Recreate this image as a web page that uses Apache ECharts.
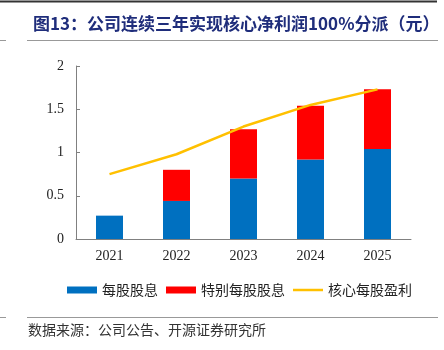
<!DOCTYPE html>
<html>
<head>
<meta charset="utf-8">
<script src="https://cdn.jsdelivr.net/npm/echarts@6/dist/echarts.min.js"></script>
<style>
  html, body { margin: 0; padding: 0; background: #fff; }
  #chart { width: 444px; height: 350px; }
</style>
</head>
<body>
<div id="chart"></div>
<script>
// 数据
const years = ['2021', '2022', '2023', '2024', '2025']
const dividend = [0.27, 0.44, 0.70, 0.92, 1.04] // 每股股息
const specialDividend = [0, 0.36, 0.57, 0.62, 0.69] // 特别每股股息
const coreEps = [0.75, 0.98, 1.30, 1.55, 1.73] // 核心每股盈利
const yTicks = [0, 0.5, 1, 1.5, 2]

const myChart = echarts.init(document.getElementById('chart'))
const cjk = '"Noto Sans CJK SC", sans-serif'
const serif = '"Liberation Serif", "Times New Roman", serif'

const option = {
  animation: false,
  title: {
    text: '图13：公司连续三年实现核心净利润100%分派（元）',
    left: 28,
    top: 10,
    textStyle: {
      color: '#1F2D7B',
      fontSize: 17,
      fontWeight: 'bold',
      fontFamily: cjk,
    },
  },
  graphic: [
    // 顶部线
    { type: 'line', shape: { x1: 0, y1: 1.5, x2: 437, y2: 1.5 }, style: { stroke: '#333', lineWidth: 2 } },
    // 标题下方线
    { type: 'line', shape: { x1: 0, y1: 40.5, x2: 6, y2: 40.5 }, style: { stroke: '#999', lineWidth: 1 } },
    { type: 'line', shape: { x1: 27, y1: 40.5, x2: 438, y2: 40.5 }, style: { stroke: '#999', lineWidth: 1 } },
    // 来源上方线
    { type: 'line', shape: { x1: 0, y1: 317.5, x2: 6, y2: 317.5 }, style: { stroke: '#999', lineWidth: 1 } },
    { type: 'line', shape: { x1: 27, y1: 317.5, x2: 438, y2: 317.5 }, style: { stroke: '#999', lineWidth: 1 } },
    {
      type: 'text',
      left: 28,
      top: 323,
      style: {
        text: '数据来源：公司公告、开源证券研究所',
        fill: '#333',
        font: '14px ' + cjk,
      },
    },
  ],
  legend: {
    left: 62,
    top: 278,
    itemWidth: 30,
    itemHeight: 7,
    itemGap: 8,
    textStyle: { color: '#222', fontSize: 14, fontFamily: cjk },
    data: [
      { name: '每股股息', icon: 'rect' },
      { name: '特别每股股息', icon: 'rect' },
      // 图例只显示线段，不显示圆点
      { name: '核心每股盈利', icon: 'path://M0,0 L30,0 L30,2.5 L0,2.5 Z' },
    ],
  },
  grid: {
    left: 76,
    right: 33,
    top: 66,
    bottom: 111,
  },
  xAxis: {
    type: 'category',
    data: years,
    axisLine: { lineStyle: { color: '#808080', width: 1 } },
    axisTick: { inside: true, length: 4, lineStyle: { color: '#808080' } },
    axisLabel: { color: '#222', fontSize: 14, fontFamily: serif, margin: 10 },
  },
  yAxis: {
    type: 'value',
    min: yTicks[0],
    max: yTicks[yTicks.length - 1],
    interval: 0.5,
    splitLine: { show: false },
    axisLine: { show: true, lineStyle: { color: '#808080', width: 1 } },
    axisTick: { show: true, inside: true, length: 4, lineStyle: { color: '#808080' } },
    axisLabel: { color: '#222', fontSize: 14, fontFamily: serif, margin: 12 },
  },
  series: [
    {
      name: '每股股息',
      type: 'bar',
      stack: 'div',
      barWidth: 27,
      data: dividend,
      itemStyle: { color: '#0070C0' },
    },
    {
      name: '特别每股股息',
      type: 'bar',
      stack: 'div',
      barWidth: 27,
      data: specialDividend,
      itemStyle: { color: '#FF0000' },
    },
    {
      name: '核心每股盈利',
      type: 'line',
      data: coreEps,
      symbol: 'none',
      lineStyle: { color: '#FFC000', width: 2.5 },
      itemStyle: { color: '#FFC000' },
    },
  ],
}

myChart.setOption(option)
</script>
</body>
</html>
